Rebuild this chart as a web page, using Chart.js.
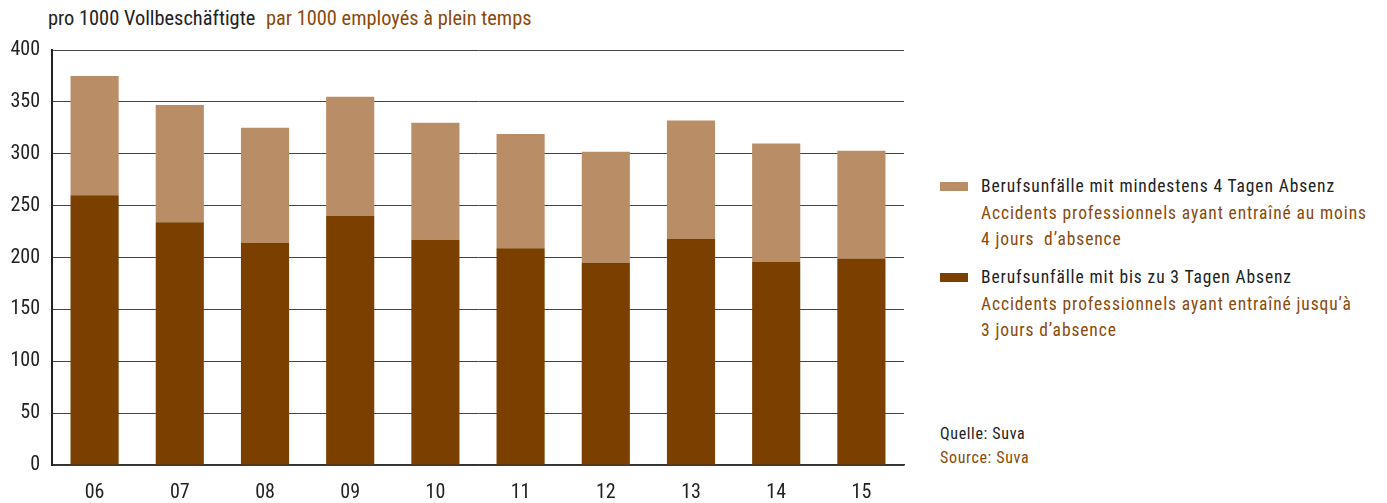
<!DOCTYPE html>
<html>
<head>
<meta charset="utf-8">
<script src="https://cdn.jsdelivr.net/npm/chart.js@4"></script>
<style>
  body { margin: 0; background: #fff; font-family: "Liberation Sans Narrow", "Roboto Condensed", "DejaVu Sans Condensed", sans-serif; }
  #wrap { position: relative; width: 1387px; height: 503px; }
  #chartBox { position: absolute; left: 0; top: 0; width: 906px; height: 503px; }
  .titel { position: absolute; left: 48px; top: 6px; font-size: 20.4px; color: #222; white-space: nowrap; }
  .titel span { color: #8B4A0B; margin-left: 6px; }
  .leg { position: absolute; left: 940px; font-size: 17.5px; letter-spacing: 0.88px; line-height: 26.5px; color: #222; white-space: nowrap; }
  .leg .sw { position: absolute; left: 0; top: 9px; width: 28px; height: 9px; }
  .leg .txt { margin-left: 41px; }
  .fr { color: #8B4A0B; }
  .quelle { position: absolute; left: 940px; top: 422px; font-size: 16px; line-height: 24px; letter-spacing: 0.65px; color: #222; }
</style>
</head>
<body>
<div id="wrap">
  <div class="titel">pro 1000 Vollbeschäftigte <span>par 1000 employés à plein temps</span></div>
  <div id="chartBox"><canvas id="grafica"></canvas></div>
  <div class="leg" style="top:173px;">
    <div class="sw" style="background:#B98E66"></div>
    <div class="txt">Berufsunfälle mit mindestens 4 Tagen Absenz<br>
      <span class="fr">Accidents professionnels ayant entraîné au moins<br>4 jours&nbsp; d’absence</span></div>
  </div>
  <div class="leg" style="top:264px;">
    <div class="sw" style="background:#7B4000"></div>
    <div class="txt">Berufsunfälle mit bis zu 3 Tagen Absenz<br>
      <span class="fr">Accidents professionnels ayant entraîné jusqu’à<br>3 jours d’absence</span></div>
  </div>
  <div class="quelle">Quelle: Suva<br><span class="fr">Source: Suva</span></div>
</div>
<script>
// Daten
const JAHRE = ['06', '07', '08', '09', '10', '11', '12', '13', '14', '15'];
const BIS_3_TAGE = [260, 234, 214, 240, 217, 209, 195, 218, 196, 199];
const AB_4_TAGEN = [115, 113, 111, 115, 113, 110, 107, 114, 114, 104];
const Y_TICKS = [0, 50, 100, 150, 200, 250, 300, 350, 400];

const FONT = '"Liberation Sans Narrow", "Roboto Condensed", "DejaVu Sans Condensed", sans-serif';

new Chart(document.getElementById('grafica'), {
  type: 'bar',
  data: {
    labels: JAHRE,
    datasets: [
      { label: 'bis zu 3 Tagen', data: BIS_3_TAGE, backgroundColor: '#7B4000',
        barPercentage: 0.565, categoryPercentage: 1 },
      { label: 'mindestens 4 Tage', data: AB_4_TAGEN, backgroundColor: '#B98E66',
        barPercentage: 0.565, categoryPercentage: 1 }
    ]
  },
  options: {
    responsive: true,
    maintainAspectRatio: false,
    animation: false,
    layout: { padding: { top: 50, right: 2, left: 0, bottom: 0 } },
    plugins: { legend: { display: false }, tooltip: { enabled: false } },
    scales: {
      x: {
        stacked: true,
        grid: { display: false, drawTicks: false },
        border: { color: '#333', width: 1.5 },
        ticks: { color: '#222', font: { family: FONT, size: 20 }, padding: 16 },
        afterFit: s => { s.height = 38; }
      },
      y: {
        stacked: true,
        min: 0, max: 400,
        afterBuildTicks: s => { s.ticks = Y_TICKS.map(v => ({ value: v })); },
        grid: { color: '#444', lineWidth: 1, drawTicks: false },
        border: { color: '#222', width: 2 },
        ticks: { color: '#222', font: { family: FONT, size: 20 }, padding: 12 },
        afterFit: s => { s.width = 52; }
      }
    }
  }
});
</script>
</body>
</html>
